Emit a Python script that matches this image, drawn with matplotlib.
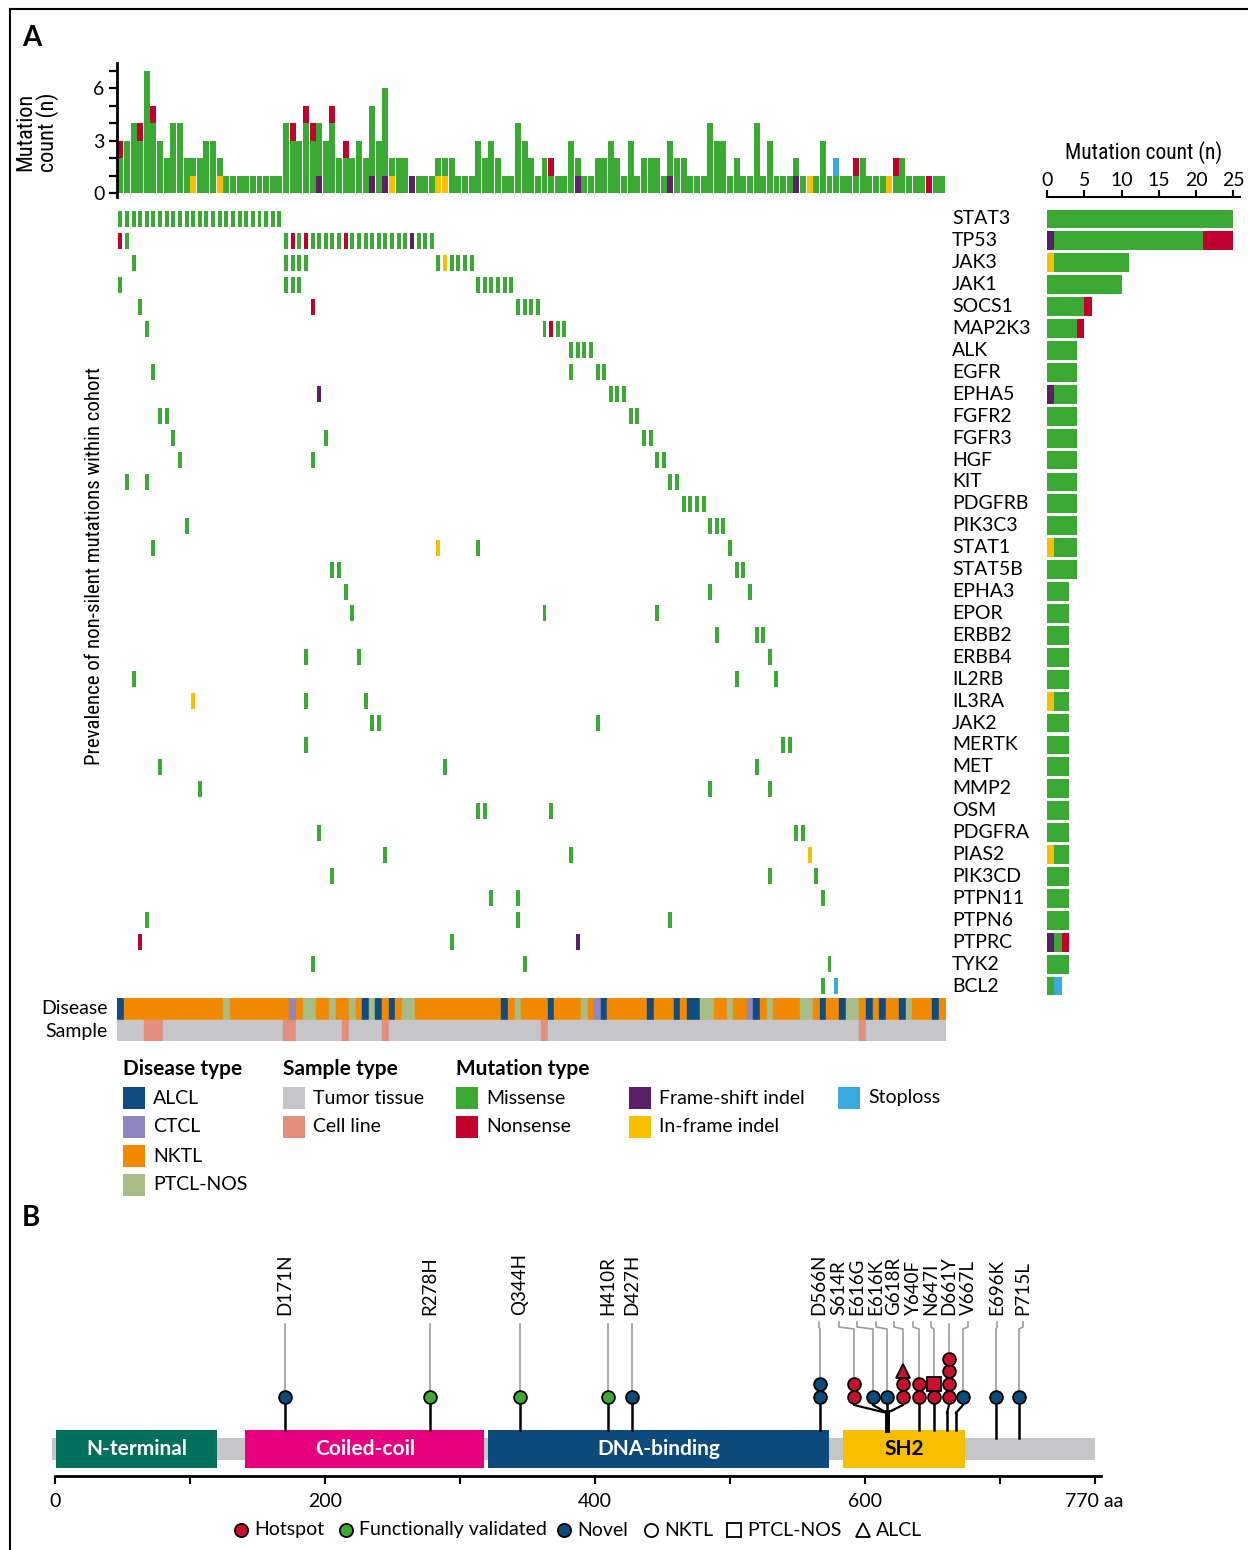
import numpy as np
import matplotlib
matplotlib.use("Agg")
import matplotlib.pyplot as plt
from matplotlib import font_manager
from matplotlib.patches import Rectangle

# ---------------- data: panel A ----------------
n_samples = 125
genes = ["STAT3", "TP53", "JAK3", "JAK1", "SOCS1", "MAP2K3", "ALK", "EGFR", "EPHA5",
         "FGFR2", "FGFR3", "HGF", "KIT", "PDGFRB", "PIK3C3", "STAT1", "STAT5B", "EPHA3",
         "EPOR", "ERBB2", "ERBB4", "IL2RB", "IL3RA", "JAK2", "MERTK", "MET", "MMP2", "OSM",
         "PDGFRA", "PIAS2", "PIK3CD", "PTPN11", "PTPN6", "PTPRC", "TYK2", "BCL2"]

# sample index of each hit, per gene and mutation type
missense_hits = {
    "STAT3": [0, 1, 2, 3, 4, 5, 6, 7, 8, 9, 10, 11, 12, 13, 14, 15, 16, 17, 18, 19, 20, 21, 22, 23, 24],
    "TP53": [1, 25, 27, 29, 30, 31, 32, 33, 35, 36, 37, 38, 39, 40, 41, 42, 43, 45, 46, 47],
    "JAK3": [2, 25, 26, 27, 28, 48, 50, 51, 52, 53],
    "JAK1": [0, 25, 26, 27, 54, 55, 56, 57, 58, 59],
    "SOCS1": [3, 60, 61, 62, 63],
    "MAP2K3": [4, 64, 66, 67],
    "ALK": [68, 69, 70, 71],
    "EGFR": [5, 68, 72, 73],
    "EPHA5": [74, 75, 76],
    "FGFR2": [6, 7, 77, 78],
    "FGFR3": [8, 31, 79, 80],
    "HGF": [9, 29, 81, 82],
    "KIT": [1, 4, 83, 84],
    "PDGFRB": [85, 86, 87, 88],
    "PIK3C3": [10, 89, 90, 91],
    "STAT1": [5, 54, 92],
    "STAT5B": [32, 33, 93, 94],
    "EPHA3": [34, 89, 95],
    "EPOR": [35, 64, 81],
    "ERBB2": [90, 96, 97],
    "ERBB4": [28, 36, 98],
    "IL2RB": [2, 93, 99],
    "IL3RA": [28, 37],
    "JAK2": [38, 39, 72],
    "MERTK": [28, 100, 101],
    "MET": [6, 49, 96],
    "MMP2": [12, 89, 98],
    "OSM": [54, 55, 65],
    "PDGFRA": [30, 102, 103],
    "PIAS2": [40, 68],
    "PIK3CD": [32, 98, 105],
    "PTPN11": [56, 60, 106],
    "PTPN6": [4, 60, 83],
    "PTPRC": [50],
    "TYK2": [29, 61, 107],
    "BCL2": [106],
}
nonsense_hits = {"TP53": [0, 26, 28, 34], "SOCS1": [29], "MAP2K3": [65], "PTPRC": [3]}
frameshift_hits = {"TP53": [44], "EPHA5": [30], "PTPRC": [69]}
inframe_hits = {"JAK3": [49], "STAT1": [48], "IL3RA": [11], "PIAS2": [104]}
stoploss_hits = {"BCL2": [108]}

# mutation count per sample (top bar chart)
top_missense = [2, 3, 4, 3, 7, 4, 3, 2, 4, 4, 2, 1, 2, 3, 3, 1,
                1, 1, 1, 1, 1, 1, 1, 1, 1,
                4, 3, 3, 4, 3, 3, 3, 4, 2, 2, 2, 3, 2, 4, 3, 5, 1, 2, 2, 0,
                1, 1, 1, 1, 1, 2, 1, 1, 1, 3, 2, 3, 2, 1, 1, 4, 3, 2, 1, 2,
                1, 1, 1, 3, 1, 1, 1, 2, 2, 3, 2, 1, 3, 1, 2, 2, 2, 1, 2, 2,
                2, 1, 1, 1, 4, 3, 3, 1, 2, 1, 1, 4, 1, 3, 1, 1, 1, 1, 1, 0,
                1, 3, 1, 1, 1, 1, 1, 2, 1, 1, 1, 0, 1, 2, 1, 1, 1, 0, 1, 1]
top_nonsense_samples = [0, 3, 5, 26, 28, 29, 32, 34, 65, 111, 117, 122]
top_frameshift_samples = [30, 38, 40, 44, 69, 83, 102]
top_inframe_samples = [11, 15, 41, 48, 49, 104, 116]
top_stoploss_samples = [108]

# A = ALCL, C = CTCL, N = NKTL, P = PTCL-NOS
disease_codes = ("A" "NNNNNNNNNNNNNNN" "P" "NNNNNNNNN" "C" "N" "PP" "NN" "P" "NN" "P" "N"
                 "A" "P" "A" "N" "A" "N" "PP" "NNNNNNNNNNNNN" "A" "N" "P" "NNNN" "A" "NNNN"
                 "P" "N" "C" "A" "NNNNNN" "A" "NNN" "A" "N" "AA" "PP" "NN" "P" "NN" "C" "A"
                 "N" "P" "NNNN" "PP" "N" "A" "NN" "A" "PP" "N" "A" "N" "A" "NN" "A" "P" "NNN" "A" "N")
cell_line_samples = [4, 5, 6, 25, 26, 34, 40, 64, 112]

# ---------------- data: panel B (STAT3 protein) ----------------
domain_names = ["N-terminal", "Coiled-coil", "DNA-binding", "SH2"]
domain_start = [1, 141, 321, 584]
domain_end = [120, 318, 573, 674]
protein_len = 770

mut_labels = ["D171N", "R278H", "Q344H", "H410R", "D427H", "D566N", "S614R", "E616G",
              "E616K", "G618R", "Y640F", "N647I", "D661Y", "V667L", "E696K", "P715L"]
mut_pos = [171, 278, 344, 410, 427, 566, 614, 616, 616, 618, 640, 647, 661, 667, 696, 715]
mut_class = ["novel", "validated", "validated", "validated", "novel", "novel", "hotspot", "novel",
             "novel", "hotspot", "hotspot", "hotspot", "hotspot", "novel", "novel", "novel"]
mut_cases = ["N", "N", "N", "N", "N", "NN", "NN", "N", "N", "NNA", "NN", "NP", "NNNN", "N", "N", "N"]

# layout of the crowded lollipops (pixel x of head, stem base and label)
head_px = [285, 430, 520, 608, 632, 820, 854, 873, 887, 903, 919, 934, 949, 963, 996, 1019]
base_px = [285, 430, 520, 608, 632, 820, 887, 887, 887, 887, 919, 934, 947, 956, 996, 1019]
label_px = [285, 430, 520, 608, 632, 819, 839, 857, 876, 894, 913, 931, 949, 968, 997, 1023]

# ---------------- styles ----------------
c_mis, c_non, c_fs, c_inf, c_stop = "#3aaa35", "#c1002b", "#5b1f66", "#f8c000", "#3aa9e0"
dis_col = {"A": "#0f4c81", "C": "#8e85c1", "N": "#f18a00", "P": "#a8bd86"}
c_tumor, c_cell = "#c6c5c9", "#e38f7e"
dom_col = ["#00705c", "#e6007e", "#0d4a7c", "#f6bf00"]
cls_col = {"hotspot": "#c8102e", "validated": "#3aaa35", "novel": "#0d4a7c"}
shape = {"N": "o", "P": "s", "A": "^"}


def pick_font(cands, default):
    for name in cands:
        try:
            font_manager.findfont(font_manager.FontProperties(family=name), fallback_to_default=False)
            return name
        except ValueError:
            continue
    return default


plain = pick_font(["Lato", "Open Sans", "Noto Sans"], "DejaVu Sans")
narrow = pick_font(["Liberation Sans Narrow", "DejaVu Sans Condensed", "Roboto Condensed"], plain)
plt.rcParams["font.family"] = [plain, "DejaVu Sans"]

W, H = 1248, 1550
fig = plt.figure(figsize=(W / 100, H / 100), dpi=100)


def px_axes(x0, y0, x1, y1):
    return fig.add_axes([x0 / W, 1 - y1 / H, (x1 - x0) / W, (y1 - y0) / H])


# overlay axes in pixel coordinates for labels / legends
ov = px_axes(0, 0, W, H)
ov.set_xlim(0, W)
ov.set_ylim(H, 0)
ov.axis("off")

ov.plot([10, W], [9, 9], color="black", lw=1.5)
ov.plot([10, 10], [9, H], color="black", lw=1.5)
ov.text(22, 38, "A", fontsize=20, fontweight="bold", va="center")
ov.text(22, 1218, "B", fontsize=20, fontweight="bold", va="center")

samples = np.arange(n_samples)


def onehot(idx):
    v = np.zeros(n_samples)
    v[idx] = 1
    return v


# ---- top bar chart ----
ax_t = px_axes(117, 63, 945.5, 197.5)
layers = [(onehot(top_frameshift_samples), c_fs), (onehot(top_inframe_samples), c_inf),
          (np.array(top_missense, float), c_mis), (onehot(top_stoploss_samples), c_stop),
          (onehot(top_nonsense_samples), c_non)]
bottom = np.zeros(n_samples)
for vals, col in layers:
    ax_t.bar(samples, vals, bottom=bottom, width=0.9, color=col, linewidth=0)
    bottom += vals
ax_t.set_xlim(-0.5, n_samples - 0.5)
ax_t.set_ylim(-0.25, 7.45)
for s in ["top", "right", "bottom"]:
    ax_t.spines[s].set_visible(False)
ax_t.spines["left"].set_linewidth(2)
ax_t.set_xticks([])
ax_t.set_yticks(range(8))
ax_t.set_yticklabels(["0", "", "", "3", "", "", "6", ""])
ax_t.tick_params(axis="y", length=6, width=1.6, labelsize=14, pad=3)
ov.text(37, 132, "Mutation\ncount (n)", rotation=90, ha="center", va="center",
        fontsize=16, family=narrow, linespacing=1.0)

# ---- oncoprint ----
ax_o = px_axes(117, 208, 945.5, 997)
ax_o.set_xlim(-0.5, n_samples - 0.5)
ax_o.set_ylim(len(genes) - 0.5, -0.5)
ax_o.axis("off")
for hits, col in [(missense_hits, c_mis), (nonsense_hits, c_non), (frameshift_hits, c_fs),
                  (inframe_hits, c_inf), (stoploss_hits, c_stop)]:
    for g, idx in hits.items():
        r = genes.index(g)
        ax_o.bar(idx, 0.73, bottom=r - 0.365, width=0.6, color=col, linewidth=0)
for r, g in enumerate(genes):
    ax_o.text(1.008, r, g, transform=ax_o.get_yaxis_transform(), ha="left", va="center", fontsize=14)
ov.text(95, 566, "Prevalence of non-silent mutations within cohort", rotation=90,
        ha="center", va="center", fontsize=15, family=narrow)

# ---- disease / sample strips ----
ax_d = px_axes(117, 998, 945.5, 1041)
ax_d.set_xlim(-0.5, n_samples - 0.5)
ax_d.set_ylim(2, 0)
ax_d.axis("off")
dcols = [dis_col[c] for c in disease_codes]
ax_d.bar(samples, 1, bottom=0, width=1.0, color=dcols, edgecolor=dcols, linewidth=0.3)
scols = [c_cell if s in cell_line_samples else c_tumor for s in samples]
ax_d.bar(samples, 1, bottom=1, width=1.0, color=scols, edgecolor=scols, linewidth=0.3)
ov.text(108, 1009, "Disease", ha="right", va="center", fontsize=14)
ov.text(108, 1031, "Sample", ha="right", va="center", fontsize=14)

# ---- right bar chart ----
ax_r = px_axes(1047, 208, 1240, 997)
ax_r.set_ylim(len(genes) - 0.5, -0.5)
ax_r.set_xlim(0, 25.9)
left = np.zeros(len(genes))
for hits, col in [(frameshift_hits, c_fs), (inframe_hits, c_inf), (missense_hits, c_mis),
                  (stoploss_hits, c_stop), (nonsense_hits, c_non)]:
    cnt = np.array([len(hits.get(g, [])) for g in genes], float)
    ax_r.barh(np.arange(len(genes)), cnt, left=left, height=0.86, color=col, linewidth=0)
    left += cnt
for s in ["bottom", "right", "left"]:
    ax_r.spines[s].set_visible(False)
ax_r.spines["top"].set_position(("outward", 8))
ax_r.spines["top"].set_linewidth(1.5)
ax_r.set_yticks([])
ax_r.xaxis.tick_top()
ax_r.set_xticks([0, 5, 10, 15, 20, 25])
ax_r.tick_params(axis="x", length=5, width=1.5, labelsize=14, pad=1)
ax_r.xaxis.set_label_position("top")
ax_r.set_xlabel("Mutation count (n)", fontsize=15.5, family=narrow, labelpad=9)

# ---- legend A ----
legend_cols = [
    (123, "Disease type", [("ALCL", dis_col["A"]), ("CTCL", dis_col["C"]), ("NKTL", dis_col["N"]),
                           ("PTCL-NOS", dis_col["P"])]),
    (283, "Sample type", [("Tumor tissue", c_tumor), ("Cell line", c_cell)]),
    (456, "Mutation type", [("Missense", c_mis), ("Nonsense", c_non)]),
    (629, None, [("Frame-shift indel", c_fs), ("In-frame indel", c_inf)]),
    (838, None, [("Stoploss", c_stop)]),
]
for x0, title, items in legend_cols:
    if title:
        ov.text(x0, 1069, title, fontsize=15, fontweight="bold", va="center")
    for k, (lab, col) in enumerate(items):
        yc = 1098 + 29 * k
        ov.add_patch(Rectangle((x0, yc - 11), 22, 22, color=col, linewidth=0))
        ov.text(x0 + 30, yc, lab, fontsize=14, va="center")

# ---------------- panel B ----------------
ax_b = px_axes(40, 1240, 1110, 1476)
aa0, aa_px = 55, 1.35
ax_b.set_xlim((40 - aa0) / aa_px, (1110 - aa0) / aa_px)
ax_b.set_ylim(1476, 1240)


def to_aa(px):
    return (px - aa0) / aa_px


ax_b.add_patch(Rectangle((-2, 1438), protein_len + 2, 22, color="#c6c5c8", linewidth=0))
for name, s, e, col in zip(domain_names, domain_start, domain_end, dom_col):
    ax_b.add_patch(Rectangle((s, 1430), e - s, 38, color=col, linewidth=0, zorder=2))
    ax_b.text((s + e) / 2, 1449, name, ha="center", va="center", fontsize=15, fontweight="bold",
              color="black" if name == "SH2" else "white", zorder=3)


def in_domain(aa):
    return any(s <= aa <= e for s, e in zip(domain_start, domain_end))


y_head = 1396.5
step = 12.6
for i, lab in enumerate(mut_labels):
    hx, bx, lx = to_aa(head_px[i]), to_aa(base_px[i]), to_aa(label_px[i])
    y_stem_end = 1430 if in_domain(mut_pos[i]) else 1438
    shared = base_px.count(base_px[i])
    if hx == bx:
        ax_b.plot([hx, hx], [y_head, y_stem_end], color="black", lw=1.8, zorder=4)
    else:
        ax_b.plot([hx, hx, bx], [y_head, 1405, 1413], color="black", lw=1.6, zorder=4)
        ax_b.plot([bx, bx], [1412, y_stem_end], color="black", lw=1.8 + 0.5 * (shared - 1), zorder=4)
    cases = mut_cases[i]
    top_y = y_head - step * (len(cases) - 1)
    # leader line to the label
    if lx == hx:
        ax_b.plot([hx, hx], [1324, top_y - 7], color="#9b9b9b", lw=1.2, zorder=1)
    else:
        ax_b.plot([lx, lx, hx, hx], [1322, 1327, 1329, top_y - 7], color="#9b9b9b", lw=1.2, zorder=1)
    for j, c in enumerate(cases):
        ms = 9.2 if c == "N" else 10.2
        ax_b.plot(hx, y_head - step * j, marker=shape[c], ms=ms, mfc=cls_col[mut_class[i]],
                  mec="black", mew=1.3, zorder=5 + j)
    ax_b.text(lx, 1315, lab, rotation=90, ha="center", va="bottom", fontsize=13.5)

for s in ["top", "right", "left"]:
    ax_b.spines[s].set_visible(False)
ax_b.spines["bottom"].set_linewidth(2)
ax_b.spines["bottom"].set_bounds(0, 775)
ax_b.set_yticks([])
ticks = [0, 100, 200, 300, 400, 500, 600, 700, 770]
ax_b.set_xticks(ticks)
ax_b.set_xticklabels(["0", "", "200", "", "400", "", "600", "", "770 aa"])
ax_b.tick_params(axis="x", length=6, width=1.5, labelsize=14, pad=6)

# legend B
leg_items = [(241, "o", cls_col["hotspot"], "Hotspot"), (346, "o", cls_col["validated"], "Functionally validated"),
             (564, "o", cls_col["novel"], "Novel"), (651, "o", "white", "NKTL"),
             (734, "s", "white", "PTCL-NOS"), (863, "^", "white", "ALCL")]
for x0, m, col, lab in leg_items:
    ov.plot(x0, 1530, marker=m, ms=9.5 if m == "o" else 10.5, mfc=col, mec="black", mew=1.3)
    ov.text(x0 + 13, 1530, lab, fontsize=14, va="center")

fig.savefig("out.png", dpi=100)
